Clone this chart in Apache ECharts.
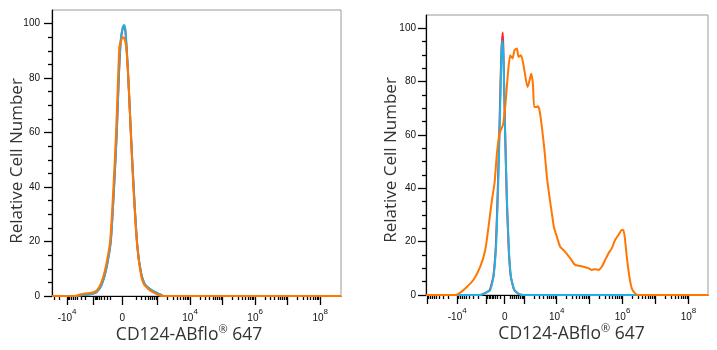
<!DOCTYPE html>
<html><head><meta charset="utf-8">
<script src="https://cdn.jsdelivr.net/npm/echarts@6/dist/echarts.min.js"></script>
<style>html,body{margin:0;padding:0;background:#fff}#c{width:717px;height:350px}</style>
</head><body><div id="c"></div>
<script>
// x values are in display units of the biexponential axis (1 unit = 1 decade, 0 at zero)
const leftOrangeX = [-2.163, -1.455, -1.302, -1.148, -0.942, -0.788, -0.655, -0.532, -0.378, -0.274, -0.194, -0.132, -0.092, -0.05, 0.012, 0.062, 0.114, 0.185, 0.258, 0.338, 0.443, 0.545, 0.646, 0.852, 1.058, 1.212, 6.72];
const leftOrangeY = [0, 0, 0.55, 0.92, 1.17, 2.0, 4.7, 9.6, 20, 40, 60, 80, 91.6, 93.4, 95, 94.6, 91.6, 80, 60, 40, 20, 9.6, 4.7, 2.0, 0.7, 0, 0];
const leftBlueX = [-2.163, -1.403, -1.2, -0.994, -0.788, -0.634, -0.502, -0.357, -0.255, -0.172, -0.111, -0.05, 0.012, 0.052, 0.093, 0.154, 0.215, 0.288, 0.369, 0.462, 0.575, 0.698, 0.904, 1.108, 1.262, 6.72];
const leftBlueY = [0, 0, 0.37, 0.6, 1.5, 4.2, 9.6, 20, 40, 60, 80, 94, 98.8, 99.5, 97.7, 86.7, 72, 53.7, 35.3, 18.3, 8.6, 4.3, 2.1, 0.9, 0, 0];
const leftRedY = [0, 0, 0.37, 0.6, 1.5, 4.2, 9.6, 20, 40, 60, 80, 93.5, 98.3, 99, 97.2, 86.2, 71.5, 53.2, 35, 18, 8.5, 4.2, 2.1, 0.9, 0, 0];

const rightOrangeX = [-2.388, -1.5, -1.348, -1.145, -0.945, -0.742, -0.591, -0.491, -0.388, -0.309, -0.236, -0.158, -0.055, 0.024, 0.097, 0.167, 0.236, 0.297, 0.37, 0.418, 0.491, 0.552, 0.621, 0.691, 0.742, 0.803, 0.855, 0.894, 0.955, 1.006, 1.055, 1.127, 1.206, 1.279, 1.358, 1.43, 1.5, 1.582, 1.682, 1.833, 1.985, 2.136, 2.288, 2.388, 2.539, 2.642, 2.742, 2.842, 2.945, 3.045, 3.145, 3.248, 3.348, 3.448, 3.552, 3.6, 3.652, 3.703, 3.782, 3.855, 3.955, 4.055, 6.167];
const rightOrangeY = [0, 0, 0.9, 3.1, 5.7, 10.6, 16.9, 25.6, 35.6, 41.9, 53.1, 60.6, 63.7, 71.8, 83, 89.9, 88.7, 91.8, 92.4, 89.3, 89.9, 87.4, 82.4, 78, 79.9, 83, 79.3, 70.5, 70.5, 70.8, 69.3, 63, 54.3, 44.3, 36.8, 30.6, 25, 21.9, 18.1, 16.2, 13.8, 11.3, 10.9, 10.6, 10.1, 9.4, 9.7, 9.4, 10.6, 13.1, 15.6, 17.5, 20.6, 22.5, 24.4, 24.4, 20.6, 14.4, 6.9, 2.5, 0.6, 0, 0];
const rightBlueX = [-2.388, -0.742, -0.591, -0.439, -0.339, -0.258, -0.197, -0.145, -0.097, -0.067, -0.036, 0.015, 0.067, 0.127, 0.188, 0.288, 0.418, 0.57, 6.167];
const rightBlueY = [0, 0, 0.7, 1.9, 6.9, 19.4, 41.9, 66.8, 91.8, 95.5, 88, 60.6, 35.6, 16.9, 6.9, 1.9, 0.45, 0, 0];
const rightRedX = [-2.388, -0.75, -0.6, -0.45, -0.345, -0.265, -0.205, -0.152, -0.105, -0.06, -0.04, 0.01, 0.062, 0.122, 0.183, 0.283, 0.41, 0.56, 6.167];
const rightRedY = [0, 0, 0.7, 2, 7, 19.5, 42, 67, 90, 98.4, 92, 62, 36, 17, 7, 2, 0.5, 0, 0];

// axis definitions
const yMajorTicks = [0, 20, 40, 60, 80, 100];
const yMinorTicks = [5, 10, 15, 25, 30, 35, 45, 50, 55, 65, 70, 75, 85, 90, 95];
const xLabelReals = [-1e4, 0, 1e4, 1e6, 1e8];
const xLabelTexts = ['{b|-10}{s|4}', '{b|0}', '{b|10}{s|4}', '{b|10}{s|6}', '{b|10}{s|8}'];
const xMajorReals = [-1e5, -1e4, -1e3, 0, 1e3, 1e4, 1e5, 1e6, 1e7, 1e8];
const xMinorMantissas = [2, 3, 4, 5, 6, 7, 8, 9];
const xMinorExponents = [2, 3, 4, 5, 6, 7];
const leftRange = [-2.163, 6.72];
const rightRange = [-2.388, 6.167];

function makeScale(c, negK) {
  return v => v >= 0 ? Math.asinh(v / (2 * c)) / Math.LN10 : -negK * Math.asinh(-v / (2 * c)) / Math.LN10;
}
const leftScale = makeScale(83.2, 0.817);
const rightScale = makeScale(265.5, 0.914);

function zip(xs, ys) { return xs.map((x, i) => [x, ys[i]]); }
function inRange(r) { return d => d >= r[0] - 1e-9 && d <= r[1] + 1e-9; }

function xAxesFor(gridIndex, scale, range, namePad) {
  const minorReals = [];
  xMinorExponents.forEach(e => xMinorMantissas.forEach(m => { minorReals.push(m * Math.pow(10, e)); minorReals.push(-m * Math.pow(10, e)); }));
  const majorPos = xMajorReals.map(scale).filter(inRange(range));
  const minorPos = minorReals.map(scale).filter(inRange(range));
  const labelPos = xLabelReals.map(scale);
  return [{
    gridIndex, type: 'value', min: range[0], max: range[1], position: 'bottom',
    axisLine: { show: true, onZero: false, lineStyle: { color: '#000', width: 1.2 } },
    axisTick: { show: true, length: 9, customValues: majorPos, lineStyle: { color: '#000', width: 1.3 } },
    axisLabel: {
      show: true, customValues: labelPos, margin: 12,
      formatter: v => { let bi = 0; labelPos.forEach((p, i) => { if (Math.abs(p - v) < Math.abs(labelPos[bi] - v)) bi = i; }); return xLabelTexts[bi]; },
      rich: {
        b: { fontSize: 10, lineHeight: 20, color: '#111', fontFamily: 'Liberation Sans' },
        s: { fontSize: 8, lineHeight: 6, verticalAlign: 'top', color: '#111', fontFamily: 'Liberation Sans' }
      }
    },
    splitLine: { show: false },
    name: '{n|CD124-ABflo}{r|®}{n| 647}', nameLocation: 'middle', nameGap: 28, nameMoveOverlap: false,
    nameTextStyle: {
      padding: namePad,
      rich: {
        n: { fontSize: 17.5, lineHeight: 22, fontFamily: 'Open Sans', color: '#333' },
        r: { fontSize: 11, lineHeight: 12, verticalAlign: 'top', fontFamily: 'Open Sans', color: '#333' }
      }
    }
  }, {
    gridIndex, type: 'value', min: range[0], max: range[1], position: 'bottom', offset: 0,
    axisLine: { show: false, onZero: false },
    axisTick: { show: true, length: 4, customValues: minorPos, lineStyle: { color: '#000', width: 1.3 } },
    axisLabel: { show: false }, splitLine: { show: false }
  }];
}

function yAxesFor(gridIndex, labelMargin, nameGap, namePad) {
  return [{
    gridIndex, type: 'value', min: 0, max: 105, position: 'left',
    axisLine: { show: true, onZero: false, lineStyle: { color: '#000', width: 1.2 } },
    axisTick: { show: true, length: 8, customValues: yMajorTicks, lineStyle: { color: '#000', width: 1.3 } },
    axisLabel: { show: true, customValues: yMajorTicks, margin: labelMargin, fontSize: 10, color: '#111', fontFamily: 'Liberation Sans' },
    splitLine: { show: false },
    name: 'Relative Cell Number', nameLocation: 'middle', nameGap, nameMoveOverlap: false,
    nameTextStyle: { fontSize: 17, fontFamily: 'Open Sans', color: '#333', padding: namePad }
  }, {
    gridIndex, type: 'value', min: 0, max: 105, position: 'left', offset: 0,
    axisLine: { show: false, onZero: false },
    axisTick: { show: true, length: 4, customValues: yMinorTicks, lineStyle: { color: '#000', width: 1.3 } },
    axisLabel: { show: false }, splitLine: { show: false }
  }];
}

function line(name, data, color, xi, yi, smooth) {
  return { name, type: 'line', data, xAxisIndex: xi, yAxisIndex: yi, showSymbol: false, symbol: 'none', smooth,
    clip: false, lineStyle: { color, width: 2 }, itemStyle: { color } };
}

const RED = '#ff2020', BLUE = '#1fb2e6', ORANGE = '#ff7700';

const chart = echarts.init(document.getElementById('c'), null, { renderer: 'canvas' });
chart.setOption({
  animation: false,
  backgroundColor: '#fff',
  grid: [
    { left: 52, top: 10, width: 289, height: 286, show: true, borderColor: '#9a9a9a', borderWidth: 1, containLabel: false },
    { left: 426, top: 15, width: 282, height: 280, show: true, borderColor: '#9a9a9a', borderWidth: 1, containLabel: false }
  ],
  xAxis: [...xAxesFor(0, leftScale, leftRange, [0, 15, 0, 0]), ...xAxesFor(1, rightScale, rightRange, [0, 0, 0, 9])],
  yAxis: [...yAxesFor(0, 12, 26, [0, 16, 0, 0]), ...yAxesFor(1, 10, 26, [0, 10, 0, 0])],
  series: [
    line('Left isotype', zip(leftBlueX, leftRedY), RED, 0, 0, 0.2),
    line('Left blue', zip(leftBlueX, leftBlueY), BLUE, 0, 0, 0.2),
    line('Left CD124', zip(leftOrangeX, leftOrangeY), ORANGE, 0, 0, 0.2),
    line('Right isotype', zip(rightRedX, rightRedY), RED, 2, 2, 0.15),
    line('Right blue', zip(rightBlueX, rightBlueY), BLUE, 2, 2, 0.15),
    line('Right CD124', zip(rightOrangeX, rightOrangeY), ORANGE, 2, 2, 0.2)
  ]
});
</script></body></html>
